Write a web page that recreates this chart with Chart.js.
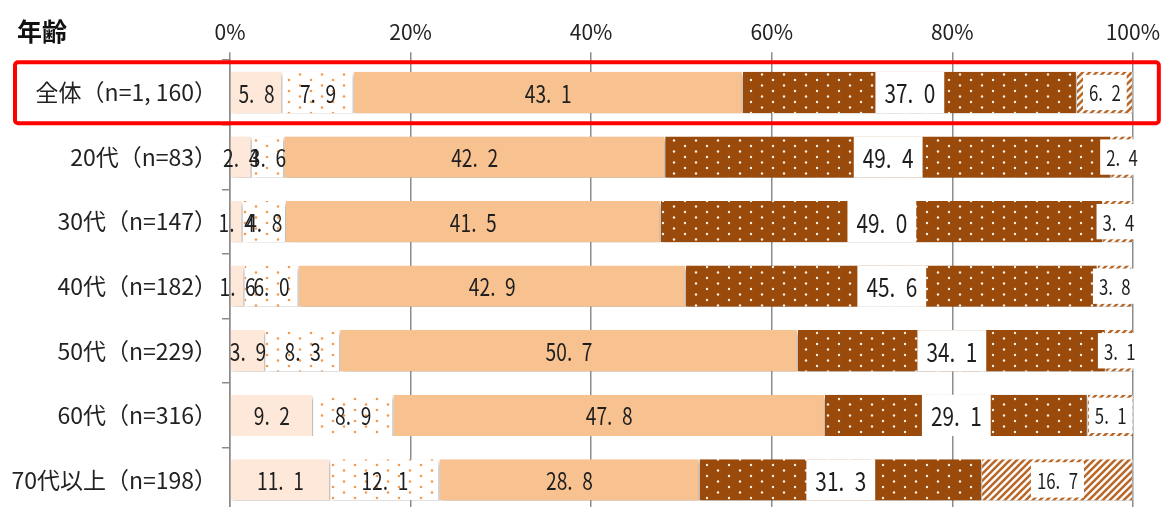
<!DOCTYPE html>
<html lang="ja">
<head>
<meta charset="utf-8">
<script src="https://cdn.jsdelivr.net/npm/chart.js@4.4.1/dist/chart.umd.min.js"></script>
<style>
  html, body { margin: 0; padding: 0; background: #fff; overflow: hidden; }
  #ageChart { display: block; }
</style>
</head>
<body>
<canvas id="ageChart" width="1168" height="531" style="width:1168px;height:531px"></canvas>
<script>
// 年齢別の回答割合（%）
const categories = ['全体（n=1, 160）', '20代（n=83）', '30代（n=147）', '40代（n=182）',
                    '50代（n=229）', '60代（n=316）', '70代以上（n=198）'];
const seg1 = [5.8, 2.4, 1.4, 1.6, 3.9, 9.2, 11.1];
const seg2 = [7.9, 3.6, 4.8, 6.0, 8.3, 8.9, 12.1];
const seg3 = [43.1, 42.2, 41.5, 42.9, 50.7, 47.8, 28.8];
const seg4 = [37.0, 49.4, 49.0, 45.6, 34.1, 29.1, 31.3];
const seg5 = [6.2, 2.4, 3.4, 3.8, 3.1, 5.1, 16.7];
const xTicks = [0, 20, 40, 60, 80, 100];

const FONT = '"Noto Sans CJK JP", "Noto Sans", sans-serif';

// 模様（ドット・斜線）
function dotPattern(bg, dot, r) {
    const c = document.createElement('canvas');
    c.width = 22; c.height = 11;
    const g = c.getContext('2d');
    g.fillStyle = bg;
    g.fillRect(0, 0, 22, 11);
    g.fillStyle = dot;
    [[3, 3], [14, 8.5]].forEach(p => {
        g.beginPath();
        g.arc(p[0], p[1], r, 0, Math.PI * 2);
        g.fill();
    });
    return g.createPattern(c, 'repeat');
}

function hatchPattern(bg, line) {
    const s = 7;
    const c = document.createElement('canvas');
    c.width = s; c.height = s;
    const g = c.getContext('2d');
    g.fillStyle = bg;
    g.fillRect(0, 0, s, s);
    g.strokeStyle = line;
    g.lineWidth = 2.6;
    [[0, s, s, 0], [-s / 2, s / 2, s / 2, -s / 2], [s / 2, s * 1.5, s * 1.5, s / 2]].forEach(l => {
        g.beginPath();
        g.moveTo(l[0], l[1]);
        g.lineTo(l[2], l[3]);
        g.stroke();
    });
    return g.createPattern(c, 'repeat');
}

const fills = [
    '#fde8da',
    dotPattern('#ffffff', '#f29a4e', 1.3),
    '#f8c290',
    dotPattern('#9a4a0b', '#fff2e6', 1.2),
    hatchPattern('#ffffff', '#b8692a')
];

function fmt(v) {
    return v.toFixed(1).replace('.', '.\u2002');
}

// 見出し・赤枠・値ラベル
const decorPlugin = {
    id: 'decor',
    beforeDatasetsDraw(chart) {
        const ctx = chart.ctx;
        ctx.save();
        ctx.shadowColor = 'rgba(0,0,0,0.35)';
        ctx.shadowBlur = 4;
        ctx.shadowOffsetX = 2;
        ctx.shadowOffsetY = 3;
    },
    afterDatasetsDraw(chart) {
        const ctx = chart.ctx;
        ctx.restore();

        chart.data.datasets.forEach((ds, i) => {
            const meta = chart.getDatasetMeta(i);
            const size = i === 3 ? 26 : (i === 4 ? 21 : 24);
            meta.data.forEach((bar, j) => {
                const txt = fmt(ds.data[j]);
                const cx = (bar.x + bar.base) / 2;
                const cy = bar.y;
                ctx.save();
                ctx.font = size + 'px ' + FONT;
                const tw = ctx.measureText(txt).width * 0.8;
                if (i === 3) {
                    ctx.fillStyle = '#fff';
                    ctx.fillRect(cx - tw / 2 - 9, cy - bar.height / 2, tw + 18, bar.height);
                } else if (i === 4) {
                    ctx.fillStyle = '#fff';
                    ctx.fillRect(cx - tw / 2 - 6, cy - bar.height / 2 + 3, tw + 12, bar.height - 6);
                }
                ctx.translate(cx, cy + 1);
                ctx.scale(0.8, 1);
                ctx.fillStyle = '#1e1e1e';
                ctx.textAlign = 'center';
                ctx.textBaseline = 'middle';
                ctx.fillText(txt, 0, 0);
                ctx.restore();
            });
        });
    },
    afterDraw(chart) {
        const ctx = chart.ctx;
        const y = chart.scales.y;
        const band = y.getPixelForValue(1) - y.getPixelForValue(0);
        const c0 = y.getPixelForValue(0);
        ctx.save();
        ctx.fillStyle = '#111';
        ctx.font = 'bold 25px ' + FONT;
        ctx.textBaseline = 'middle';
        ctx.fillText('年齢', 17, 31);

        ctx.strokeStyle = '#ff0000';
        ctx.lineWidth = 4;
        const top = c0 - band / 2 + 2;
        const bottom = c0 + band / 2 - 1.5;
        ctx.beginPath();
        ctx.roundRect(15, top, chart.chartArea.right + 26 - 15, bottom - top, 3);
        ctx.stroke();
        ctx.restore();
    }
};

const ctx = document.getElementById('ageChart').getContext('2d');
new Chart(ctx, {
    type: 'bar',
    data: {
        labels: categories,
        datasets: [seg1, seg2, seg3, seg4, seg5].map((d, i) => ({
            label: '区分' + (i + 1),
            data: d,
            backgroundColor: fills[i],
            borderColor: '#ffffff',
            borderWidth: { left: 0, right: 1, top: 0, bottom: 0 },
            borderSkipped: false,
            barPercentage: 0.64,
            categoryPercentage: 1
        }))
    },
    options: {
        indexAxis: 'y',
        responsive: false,
        animation: false,
        layout: { padding: { top: 11, left: 8, right: 25, bottom: 2 } },
        plugins: {
            legend: { display: false },
            tooltip: { enabled: false }
        },
        scales: {
            x: {
                position: 'top',
                stacked: true,
                min: 0,
                max: 100,
                afterBuildTicks: s => { s.ticks = xTicks.map(v => ({ value: v })); },
                ticks: {
                    callback: v => v + '%',
                    font: { family: FONT, size: 21 },
                    color: '#222',
                    padding: 8,
                    maxRotation: 0
                },
                grid: { color: '#8c8c8c', lineWidth: 1.5, tickLength: 8 },
                border: { display: false }
            },
            y: {
                stacked: true,
                ticks: {
                    font: { family: FONT, size: 23 },
                    color: '#222',
                    padding: 5
                },
                grid: { offset: true, drawOnChartArea: false, tickLength: 8, color: '#8c8c8c', lineWidth: 1.5 },
                border: { display: true, color: '#8c8c8c', width: 1.5 },
                afterFit: s => { s.width = 222; }
            }
        }
    },
    plugins: [decorPlugin]
});
</script>
</body>
</html>
